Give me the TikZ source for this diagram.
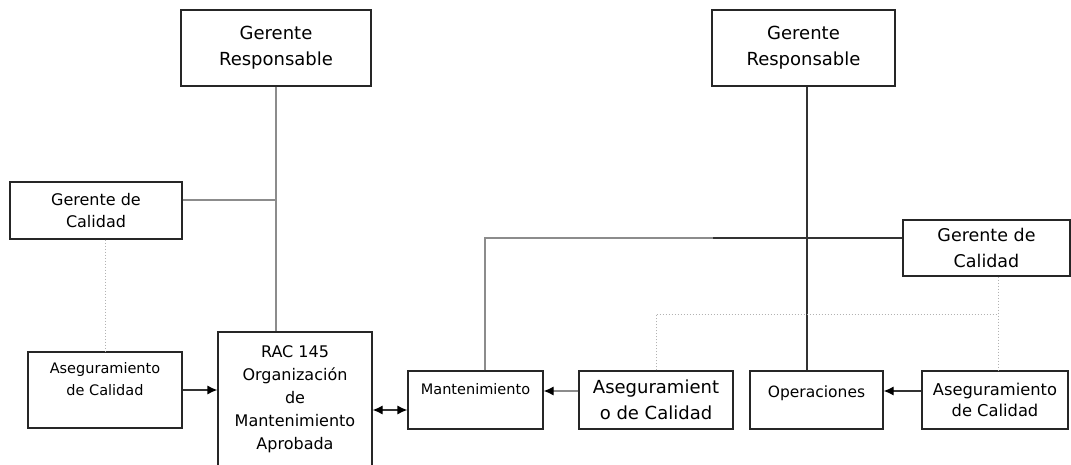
\documentclass[tikz,border=0pt]{standalone}
\usepackage{fontspec}
\setmainfont{DejaVu Sans}
\usetikzlibrary{arrows.meta,calc}
\tikzset{
    box/.style =    {rectangle,
                    fill=white,
                    draw=black!85,
                    text=black,
                    line width=1.2pt,
                    align=center,
                    inner sep=0pt},
    link/.style =   {draw=black!80,
                    line width=1.2pt},
    glink/.style =  {draw=black!45,
                    line width=1.2pt},
    dlink/.style =  {draw=black!30,
                    line width=1pt,
                    dash pattern=on 1.5pt off 1.5pt},
    >={Latex[length=10pt,width=9pt,black]}}

\begin{document}
\begin{tikzpicture}[x=1pt,y=-1pt]
                \useasboundingbox (0,0) rectangle (1071,465);
                \clip (0,0) rectangle (1071,465);
                % left organisation
                \node[box, minimum width=190pt, minimum height=76pt, font=\fontsize{18}{26}\selectfont]
                    (GR1) at (276,48)       {Gerente\\Responsable};
                \node[box, minimum width=172pt, minimum height=57pt, font=\fontsize{16}{22}\selectfont]
                    (GC1) at (96,210.5)     {Gerente de\\Calidad};
                \node[box, minimum width=154pt, minimum height=76pt, font=\fontsize{14.5}{22}\selectfont]
                    (AC1) at (105,390)      {Aseguramiento\\de Calidad\\\mbox{}};
                \node[box, minimum width=154pt, minimum height=154pt, font=\fontsize{16}{23}\selectfont]
                    (RAC) at (295,409)      {RAC 145\\Organización\\de\\Mantenimiento\\Aprobada\\\mbox{}};
                % right organisation
                \node[box, minimum width=135pt, minimum height=58pt, font=\fontsize{14.5}{23}\selectfont]
                    (MAN) at (475.5,400)    {Mantenimiento\\\mbox{}};
                \node[box, minimum width=154pt, minimum height=58pt, font=\fontsize{18}{26}\selectfont]
                    (AC2) at (656,400)      {Aseguramient\\o de Calidad};
                \node[box, minimum width=183pt, minimum height=76pt, font=\fontsize{18}{26}\selectfont]
                    (GR2) at (803.5,48)     {Gerente\\Responsable};
                \node[box, minimum width=167pt, minimum height=56pt, font=\fontsize{17.5}{25.5}\selectfont]
                    (GC2) at (986.5,248)    {Gerente de\\Calidad};
                \node[box, minimum width=133pt, minimum height=58pt, font=\fontsize{15.5}{17}\selectfont]
                    (OPE) at (816.5,400)    {Operaciones\\\mbox{}};
                \node[box, minimum width=146pt, minimum height=58pt, font=\fontsize{16.3}{21.5}\selectfont]
                    (AC3) at (995,400)      {Aseguramiento\\de Calidad};
                \coordinate (rv) at (807,0);
                \coordinate (mx) at (485,0);
                \coordinate (split) at (713,238);
                \coordinate (dq) at (998,314);
                % connectors
                \draw[glink] (GR1.south) -- (GR1.south |- RAC.north);
                \draw[glink] ([yshift=10.5pt]GC1.east) coordinate (gc1e) -- (gc1e -| GR1.south);
                \draw[dlink] (AC1.north |- GC1.south) -- (AC1.north);
                \draw[link,->] (AC1.east) -- (AC1.east -| RAC.west);
                \draw[link,<->] ([yshift=-10pt]MAN.west) coordinate (mw) -- (mw -| RAC.east);
                \draw[glink,->] ([yshift=9pt]AC2.west) coordinate (a2w) -- (a2w -| MAN.east);
                \draw[glink] (mx |- MAN.north) -- (mx |- split) -- (split);
                \draw[link] (split) -- (split -| GC2.west);
                \draw[link] (GR2.south -| rv) -- (OPE.north -| rv);
                \draw[link,->] ([yshift=9pt]AC3.west) coordinate (a3w) -- (a3w -| OPE.east);
                \draw[dlink] (AC2.north) |- (dq);
                \draw[dlink] (dq |- GC2.south) -- (dq |- AC3.north);
        \end{tikzpicture}
\end{document}
